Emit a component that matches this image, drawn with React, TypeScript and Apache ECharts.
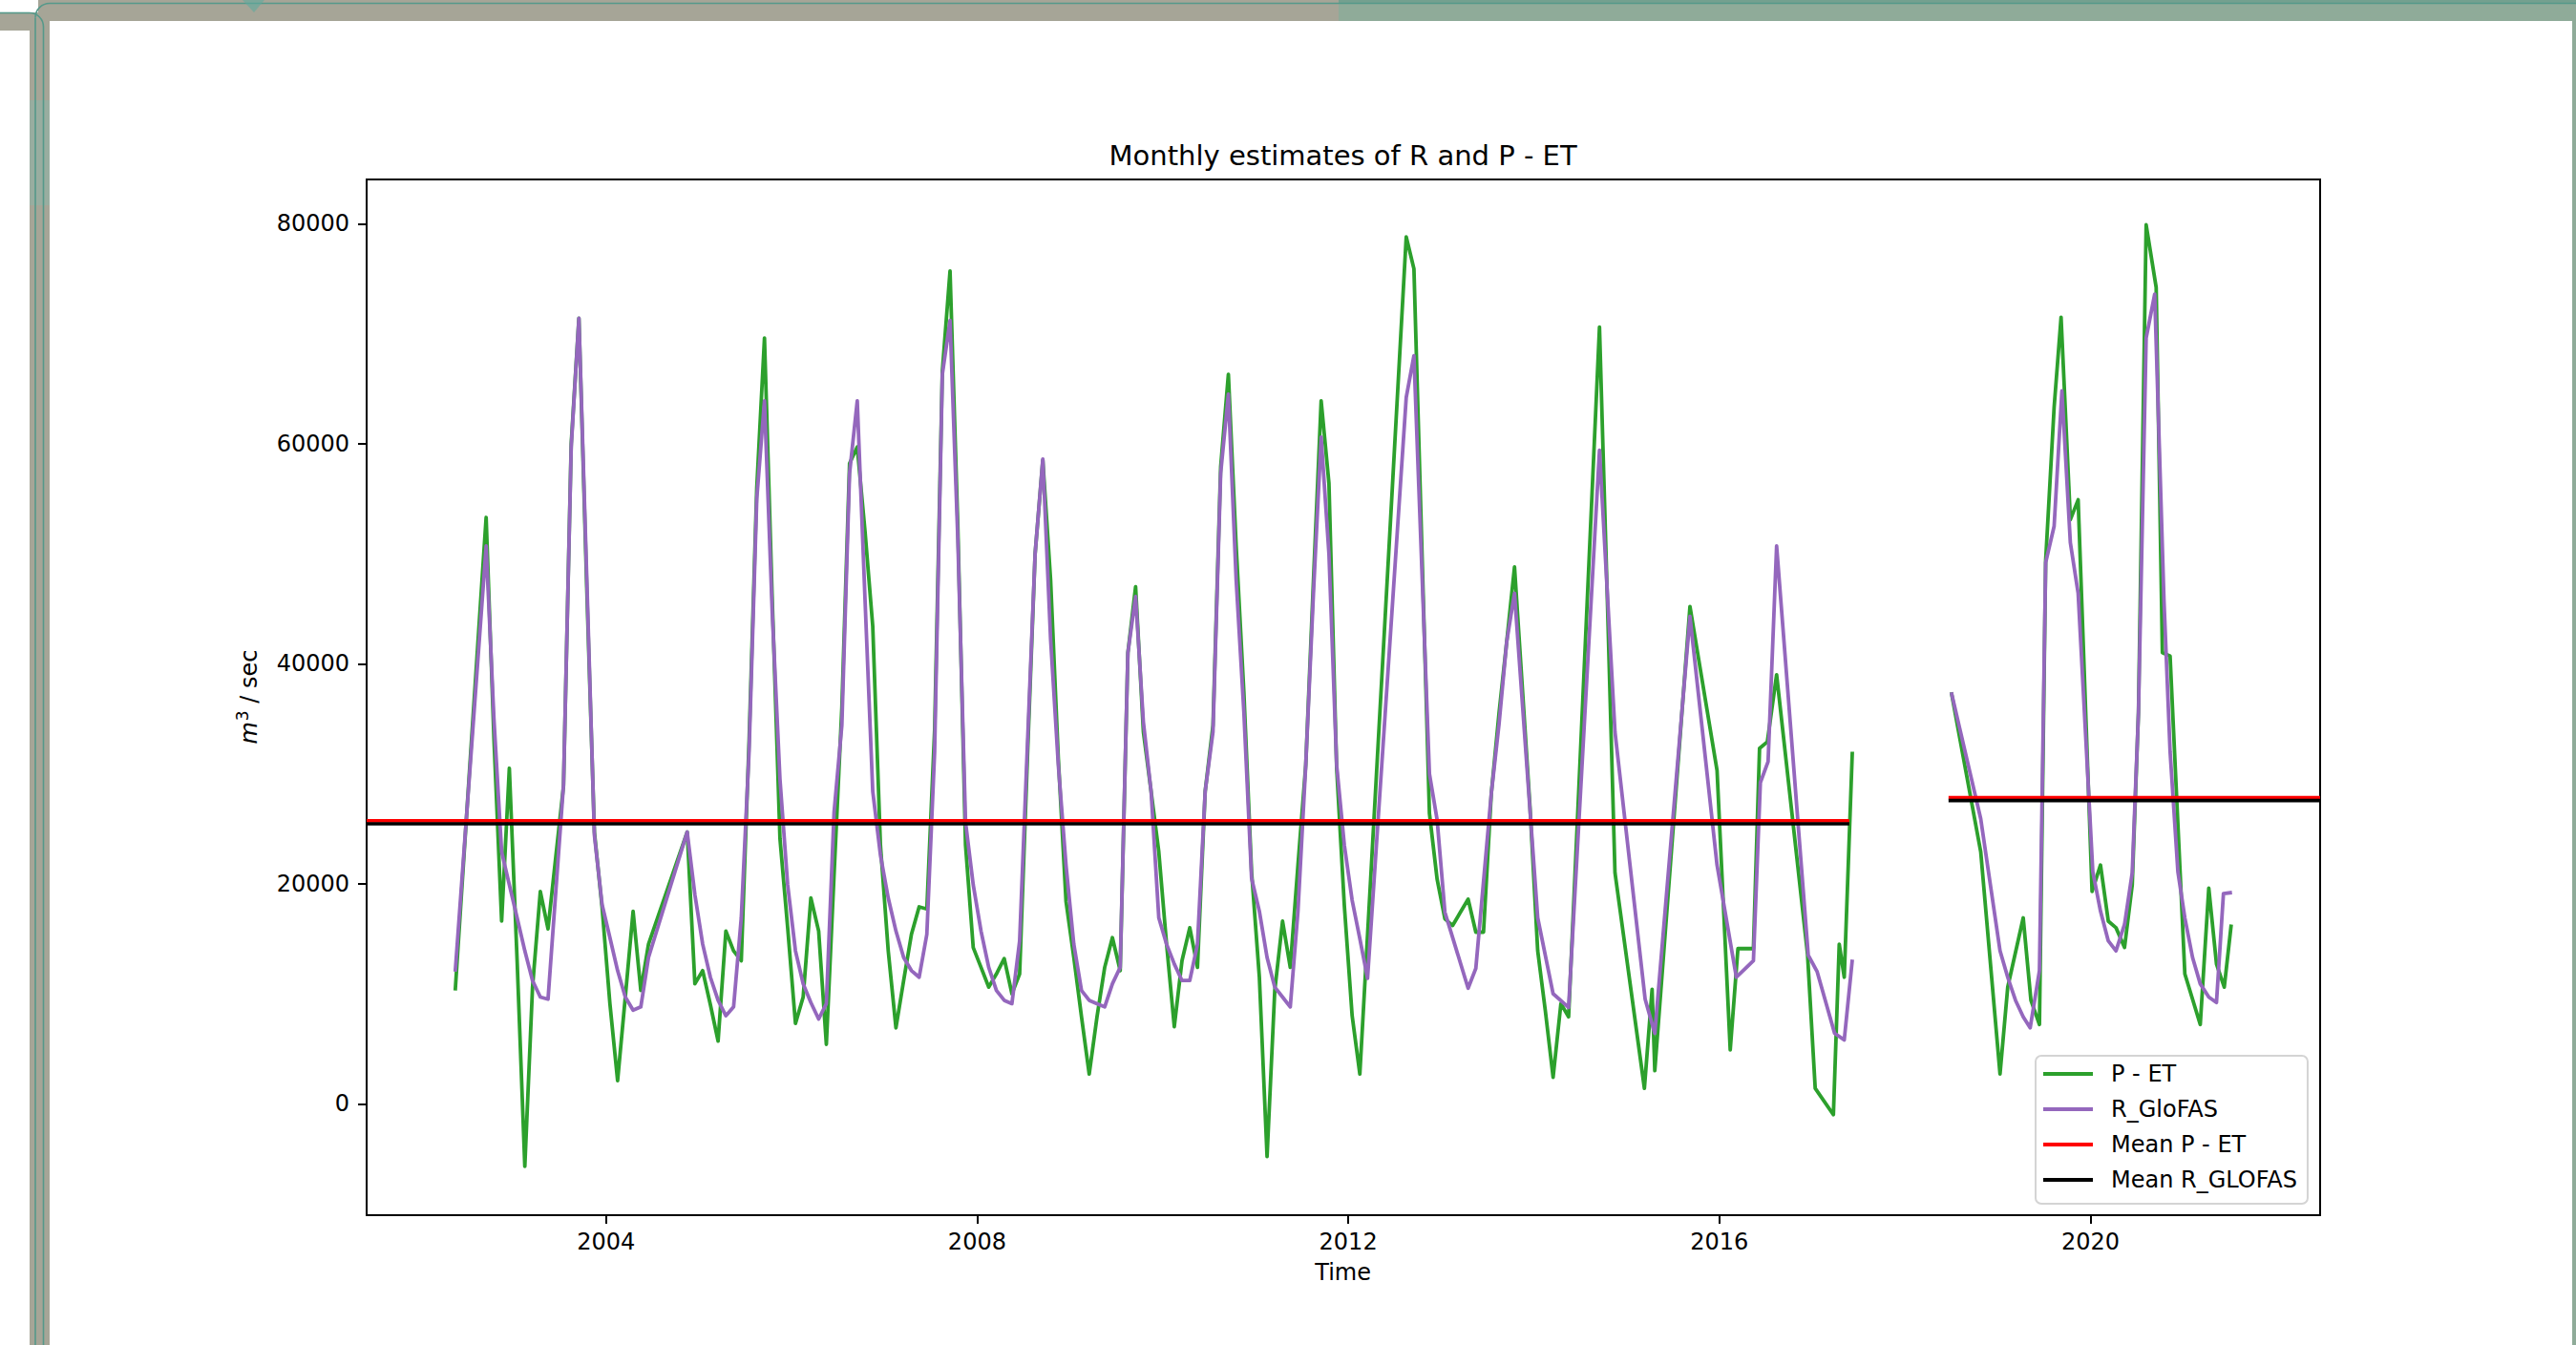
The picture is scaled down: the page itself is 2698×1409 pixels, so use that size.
import React, { useEffect, useRef } from "react";
import * as echarts from "echarts";

// ---- data (decimal year, m3/sec) ----
const petSeg1: [number, number][] = [
  [2002.375, 10300], [2002.542, 32000], [2002.708, 53300], [2002.792, 33200], [2002.875, 16600],
  [2002.958, 30500], [2003.042, 13000], [2003.125, -5700], [2003.208, 10600], [2003.292, 19300],
  [2003.375, 15900], [2003.458, 22400], [2003.542, 28900], [2003.625, 60000], [2003.708, 71400],
  [2003.792, 47000], [2003.875, 24700], [2003.958, 17800], [2004.042, 9100], [2004.125, 2100],
  [2004.208, 9700], [2004.292, 17500], [2004.375, 10300], [2004.458, 14500], [2004.875, 24700],
  [2004.958, 10900], [2005.042, 12100], [2005.125, 9000], [2005.208, 5700], [2005.292, 15700],
  [2005.375, 13900], [2005.458, 13000], [2005.542, 33000], [2005.625, 56000], [2005.708, 69600],
  [2005.792, 45800], [2005.875, 24100], [2005.958, 16000], [2006.042, 7300], [2006.125, 9700],
  [2006.208, 18700], [2006.292, 15700], [2006.375, 5400], [2006.458, 20800], [2006.542, 36000],
  [2006.625, 58200], [2006.708, 59700], [2006.792, 52000], [2006.875, 43400], [2006.958, 23500],
  [2007.042, 13900], [2007.125, 6900], [2007.208, 11200], [2007.292, 15400], [2007.375, 17900],
  [2007.458, 17700], [2007.542, 34000], [2007.625, 66600], [2007.708, 75700], [2007.792, 52500],
  [2007.875, 23500], [2007.958, 14200], [2008.042, 12400], [2008.125, 10600], [2008.208, 11800],
  [2008.292, 13200], [2008.375, 10000], [2008.458, 11800], [2008.542, 31400], [2008.625, 50000],
  [2008.708, 58500], [2008.792, 47600], [2008.875, 31400], [2008.958, 18400], [2009.042, 13300],
  [2009.125, 7900], [2009.208, 2700], [2009.292, 7900], [2009.375, 12400], [2009.458, 15100],
  [2009.542, 12100], [2009.625, 41000], [2009.708, 47000], [2009.792, 33800], [2009.875, 28400],
  [2009.958, 22900], [2010.042, 14500], [2010.125, 7000], [2010.208, 13000], [2010.292, 16000],
  [2010.375, 12400], [2010.458, 28400], [2010.542, 34400], [2010.625, 57900], [2010.708, 66300],
  [2010.792, 50700], [2010.875, 37400], [2010.958, 21100], [2011.042, 11500], [2011.125, -4800],
  [2011.208, 10300], [2011.292, 16600], [2011.375, 12400], [2011.458, 21700], [2011.542, 30800],
  [2011.625, 47600], [2011.708, 63900], [2011.792, 56400], [2011.875, 30500], [2011.958, 18000],
  [2012.042, 8000], [2012.125, 2700], [2012.625, 78800], [2012.708, 75900], [2012.875, 26400],
  [2012.958, 20400], [2013.042, 16800], [2013.125, 16200], [2013.208, 17400], [2013.292, 18600],
  [2013.375, 15600], [2013.458, 15600], [2013.542, 28200], [2013.625, 35500], [2013.708, 42000],
  [2013.792, 48800], [2013.875, 38000], [2013.958, 27100], [2014.042, 13900], [2014.125, 8400],
  [2014.208, 2400], [2014.292, 9100], [2014.375, 7900], [2014.708, 70600], [2014.792, 46000],
  [2014.875, 21000], [2015.192, 1400], [2015.275, 10400], [2015.304, 3000], [2015.683, 45200],
  [2015.975, 30300], [2016.117, 4900], [2016.2, 14100], [2016.367, 14100], [2016.433, 32300],
  [2016.517, 32900], [2016.617, 39000], [2016.95, 13600], [2017.033, 1400], [2017.229, -1000],
  [2017.292, 14500], [2017.346, 11500], [2017.433, 32000],
];

const petSeg2: [number, number][] = [
  [2018.5, 37400], [2018.817, 22900], [2019.025, 2700], [2019.108, 10600], [2019.275, 16900],
  [2019.358, 9400], [2019.45, 7200], [2019.517, 49400], [2019.608, 63300], [2019.683, 71500],
  [2019.783, 53100], [2019.867, 54900], [2020.017, 19300], [2020.108, 21700], [2020.192, 16600],
  [2020.275, 16000], [2020.367, 14200], [2020.45, 19900], [2020.517, 35600], [2020.6, 79900],
  [2020.708, 74200], [2020.775, 41000], [2020.858, 40700], [2021.017, 11800], [2021.183, 7200],
  [2021.275, 19600], [2021.358, 12700], [2021.442, 10600], [2021.517, 16300],
];

const rSeg1: [number, number][] = [
  [2002.375, 12000], [2002.542, 31400], [2002.708, 50700], [2002.792, 35000], [2002.875, 22900],
  [2002.958, 19900], [2003.042, 16900], [2003.125, 13900], [2003.208, 11200], [2003.292, 9700],
  [2003.375, 9500], [2003.458, 19200], [2003.542, 29000], [2003.625, 59700], [2003.708, 71400],
  [2003.792, 48000], [2003.875, 24400], [2003.958, 18100], [2004.042, 15100], [2004.125, 12100],
  [2004.208, 9700], [2004.292, 8500], [2004.375, 8800], [2004.458, 13300], [2004.875, 24700],
  [2004.958, 19000], [2005.042, 14500], [2005.125, 11500], [2005.208, 9400], [2005.292, 8000],
  [2005.375, 8800], [2005.458, 16900], [2005.542, 32000], [2005.625, 55000], [2005.708, 63900],
  [2005.792, 44600], [2005.875, 29500], [2005.958, 19900], [2006.042, 13900], [2006.125, 10900],
  [2006.208, 9200], [2006.292, 7700], [2006.375, 9100], [2006.458, 26500], [2006.542, 34400],
  [2006.625, 57300], [2006.708, 63900], [2006.792, 45800], [2006.875, 28400], [2006.958, 22600],
  [2007.042, 18700], [2007.125, 15700], [2007.208, 13300], [2007.292, 12100], [2007.375, 11500],
  [2007.458, 15400], [2007.542, 32000], [2007.625, 66300], [2007.708, 71200], [2007.792, 51300],
  [2007.875, 25600], [2007.958, 19900], [2008.042, 15700], [2008.125, 12400], [2008.208, 10300],
  [2008.292, 9400], [2008.375, 9100], [2008.458, 14800], [2008.542, 32600], [2008.625, 50000],
  [2008.708, 58600], [2008.792, 42200], [2008.875, 30800], [2008.958, 21700], [2009.042, 14500],
  [2009.125, 10300], [2009.208, 9400], [2009.292, 9100], [2009.375, 8800], [2009.458, 10900],
  [2009.542, 12400], [2009.625, 41000], [2009.708, 46100], [2009.792, 34700], [2009.875, 28400],
  [2009.958, 16900], [2010.042, 14500], [2010.125, 12700], [2010.208, 11200], [2010.292, 11200],
  [2010.375, 14500], [2010.458, 28400], [2010.542, 33800], [2010.625, 57300], [2010.708, 64500],
  [2010.792, 47600], [2010.875, 35600], [2010.958, 20500], [2011.042, 17500], [2011.125, 13300],
  [2011.208, 10600], [2011.292, 9700], [2011.375, 8800], [2011.458, 17500], [2011.542, 30800],
  [2011.625, 46400], [2011.708, 60600], [2011.792, 50000], [2011.875, 30800], [2011.958, 23500],
  [2012.042, 18500], [2012.125, 15000], [2012.208, 11400], [2012.625, 64200], [2012.708, 68000],
  [2012.875, 30000], [2012.958, 25800], [2013.042, 17400], [2013.292, 10500], [2013.375, 12300],
  [2013.542, 28200], [2013.625, 34500], [2013.708, 42000], [2013.792, 46400], [2014.042, 16900],
  [2014.208, 10000], [2014.375, 8750], [2014.708, 59400], [2014.875, 33800], [2015.2, 9500],
  [2015.304, 6400], [2015.683, 44300], [2015.975, 21700], [2016.183, 11500], [2016.367, 13000],
  [2016.442, 29200], [2016.525, 31100], [2016.617, 50700], [2016.958, 13500], [2017.054, 12000],
  [2017.242, 6400], [2017.346, 5800], [2017.433, 13100],
];

const rSeg2: [number, number][] = [
  [2018.5, 37400], [2018.817, 25900], [2019.025, 13900], [2019.108, 11500], [2019.192, 9400],
  [2019.275, 7900], [2019.35, 6900], [2019.45, 12100], [2019.517, 49200], [2019.608, 52500],
  [2019.692, 64800], [2019.783, 51000], [2019.867, 46400], [2019.942, 34400], [2020.025, 21100],
  [2020.108, 17500], [2020.192, 14800], [2020.275, 13900], [2020.367, 16300], [2020.45, 21000],
  [2020.517, 35500], [2020.6, 69600], [2020.692, 73600], [2020.792, 45800], [2020.858, 32000],
  [2020.942, 21100], [2021.017, 16900], [2021.1, 13300], [2021.183, 10900], [2021.275, 9700],
  [2021.358, 9200], [2021.433, 19100], [2021.525, 19200],
];

const meanPET = [25720, 27820];
const meanR = [25450, 27560];
const meanSpans: [number, number][] = [[2001.42, 2017.40], [2018.47, 2022.475]];

const yearTicks = [2004, 2008, 2012, 2016, 2020];
const valueTicks = [0, 20000, 40000, 60000, 80000];

const X_MIN = 2001.42;
const X_MAX = 2022.475;
const Y_MIN = -10130;
const Y_MAX = 84020;

const W = 2698;
const H = 1409;
const FONT = "DejaVu Sans";
const GREEN = "#2ca02c";
const PURPLE = "#9467bd";
const RED = "#ff0000";
const BLACK = "#000000";
const TEAL = "#55998a";
const FRAME_GRAY = "#a6a597";
const FRAME_GREEN = "#8fab99";

export default function App() {
  const ref = useRef<HTMLDivElement>(null);

  useEffect(() => {
    if (!ref.current) return;
    const chart = echarts.init(ref.current, null, { renderer: "svg", width: W, height: H });

    const line = (name: string, color: string, data: any[], width = 3.8) => ({
      type: "line",
      name,
      data,
      color,
      showSymbol: false,
      symbol: "none",
      silent: true,
      clip: true,
      itemStyle: { color },
      lineStyle: { color, width, join: "round", cap: "butt" },
    });

    const meanData = (vals: number[], i: number) => [
      [meanSpans[i][0], vals[i]],
      [meanSpans[i][1], vals[i]],
    ];

    const option: any = {
      animation: false,
      backgroundColor: "#ffffff",
      title: {
        text: "Monthly estimates of R and P - ET",
        left: 1406.6,
        top: 148,
        textAlign: "center",
        padding: 0,
        textStyle: { fontSize: 29, fontWeight: "normal", fontFamily: FONT, color: "#000" },
      },
      legend: {
        data: ["P - ET", "R_GloFAS", "Mean P - ET", "Mean R_GLOFAS"],
        orient: "vertical",
        left: 2132,
        top: 1106,
        padding: [7, 11, 13, 8],
        itemWidth: 52,
        itemHeight: 4,
        itemGap: 13,
        icon: "rect",
        itemStyle: { borderWidth: 0 },
        backgroundColor: "rgba(255,255,255,0.8)",
        borderColor: "#d4d4d4",
        borderWidth: 2,
        borderRadius: 6,
        textStyle: {
          fontSize: 24,
          fontFamily: FONT,
          color: "#000",
          lineHeight: 24,
          padding: [0, 0, 0, 14],
        },
      },
      grid: {
        left: 384,
        top: 188,
        width: 2046,
        height: 1085,
        show: true,
        borderColor: "#000",
        borderWidth: 2,
        backgroundColor: "transparent",
      },
      xAxis: {
        type: "value",
        min: X_MIN,
        max: X_MAX,
        axisLine: { show: false, onZero: false },
        splitLine: { show: false },
        axisTick: {
          show: true,
          customValues: yearTicks,
          length: 9,
          lineStyle: { color: "#000", width: 2 },
        },
        axisLabel: {
          customValues: yearTicks,
          formatter: (v: number) => String(Math.round(v)),
          fontSize: 24,
          fontFamily: FONT,
          color: "#000",
          margin: 16,
        },
      },
      yAxis: {
        type: "value",
        min: Y_MIN,
        max: Y_MAX,
        axisLine: { show: false, onZero: false },
        splitLine: { show: false },
        axisTick: {
          show: true,
          customValues: valueTicks,
          length: 9,
          lineStyle: { color: "#000", width: 2 },
        },
        axisLabel: {
          customValues: valueTicks,
          formatter: (v: number) => String(Math.round(v)),
          fontSize: 24,
          fontFamily: FONT,
          color: "#000",
          margin: 18,
        },
      },
      series: [
        line("P - ET", GREEN, petSeg1),
        line("P - ET", GREEN, petSeg2),
        line("R_GloFAS", PURPLE, rSeg1),
        line("R_GloFAS", PURPLE, rSeg2),
        line("Mean P - ET", RED, meanData(meanPET, 0), 3.6),
        line("Mean P - ET", RED, meanData(meanPET, 1), 3.6),
        line("Mean R_GLOFAS", BLACK, meanData(meanR, 0), 3.6),
        line("Mean R_GLOFAS", BLACK, meanData(meanR, 1), 3.6),
      ],
      graphic: [
        // window chrome
        { type: "rect", z: 0, shape: { x: 0, y: 13, width: 40, height: 19 }, style: { fill: FRAME_GRAY } },
        { type: "rect", z: 0, shape: { x: 31, y: 13, width: 21, height: H - 13 }, style: { fill: FRAME_GRAY } },
        { type: "rect", z: 0, shape: { x: 31, y: 105, width: 21, height: 110 }, style: { fill: "#98ada0" } },
        { type: "rect", z: 0, shape: { x: 40, y: 0, width: 1362, height: 22 }, style: { fill: FRAME_GRAY } },
        { type: "rect", z: 0, shape: { x: 1402, y: 0, width: W - 1402, height: 22 }, style: { fill: FRAME_GREEN } },
        { type: "rect", z: 0, shape: { x: 2694, y: 22, width: 4, height: H - 22 }, style: { fill: FRAME_GREEN } },
        { type: "rect", z: 0, shape: { x: 1402, y: 0, width: W - 1402, height: 3 }, style: { fill: "#74a08f" } },
        { type: "line", z: 1, shape: { x1: 52, y1: 3.5, x2: W, y2: 3.5 }, style: { stroke: TEAL, lineWidth: 1.6 } },
        { type: "arc", z: 1, shape: { cx: 52, cy: 18.5, r: 15, startAngle: Math.PI, endAngle: Math.PI * 1.5, clockwise: true }, style: { stroke: TEAL, lineWidth: 1.6, fill: "none" } },
        { type: "line", z: 1, shape: { x1: 37, y1: 18.5, x2: 37, y2: H }, style: { stroke: TEAL, lineWidth: 1.6 } },
        { type: "line", z: 1, shape: { x1: 0, y1: 13.5, x2: 31, y2: 13.5 }, style: { stroke: TEAL, lineWidth: 1.6 } },
        { type: "arc", z: 1, shape: { cx: 31, cy: 28, r: 14.5, startAngle: Math.PI * 1.5, endAngle: Math.PI * 2, clockwise: true }, style: { stroke: TEAL, lineWidth: 1.6, fill: "none" } },
        { type: "line", z: 1, shape: { x1: 45.5, y1: 28, x2: 45.5, y2: H }, style: { stroke: TEAL, lineWidth: 1.6 } },
        { type: "polygon", z: 1, shape: { points: [[254, 0], [277, 0], [266, 13]] }, style: { fill: "rgba(95,170,158,0.6)" } },
        // axis labels
        {
          type: "text",
          z: 10,
          x: 1406.6,
          y: 1333,
          style: {
            text: "Time",
            fontSize: 24,
            fontFamily: FONT,
            fill: "#000",
            align: "center",
            verticalAlign: "middle",
            textAlign: "center",
            textVerticalAlign: "middle",
          },
        },
        {
          type: "text",
          z: 10,
          x: 261,
          y: 730,
          rotation: Math.PI / 2,
          style: {
            text: "{i|m}{s|3}{n| / sec}",
            fill: "#000",
            align: "center",
            verticalAlign: "middle",
            textAlign: "center",
            textVerticalAlign: "middle",
            rich: {
              i: { fontSize: 24, fontFamily: FONT, fontStyle: "italic", fill: "#000" },
              s: { fontSize: 17, fontFamily: FONT, fill: "#000", padding: [0, 0, 14, 1] },
              n: { fontSize: 24, fontFamily: FONT, fill: "#000" },
            },
          },
        },
      ],
    };

    chart.setOption(option);
    return () => chart.dispose();
  }, []);

  return (
    <div
      ref={ref}
      style={{ position: "fixed", left: 0, top: 0, width: W, height: H, background: "#fff" }}
    />
  );
}
